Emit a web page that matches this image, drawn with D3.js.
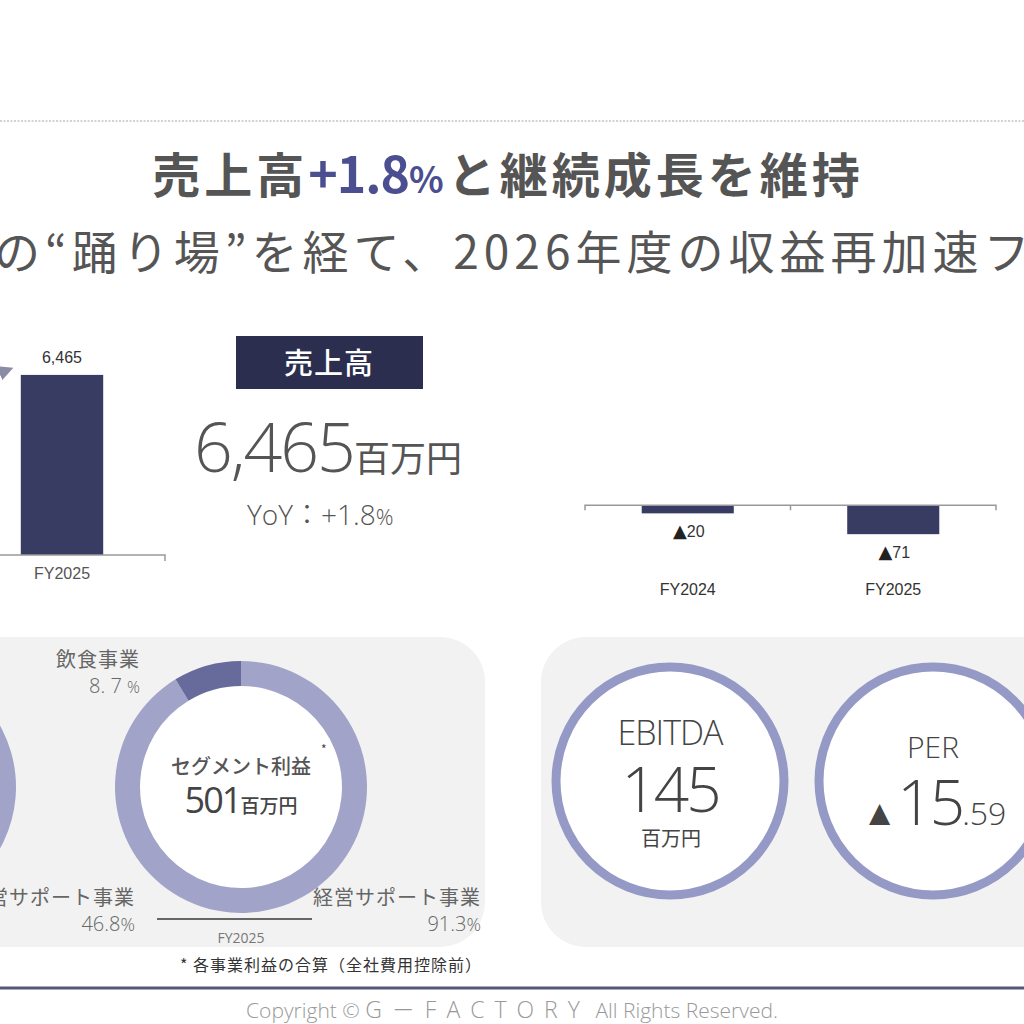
<!DOCTYPE html>
<html><head><meta charset="utf-8">
<script src="https://cdn.jsdelivr.net/npm/d3@7"></script>
<style>
html,body{margin:0;padding:0;background:#fff;}
svg{display:block;}
</style></head>
<body>
<svg id="c" width="1024" height="1024"></svg>
<script>
// ---------- data ----------
const salesCategories = ["FY2024", "FY2025"];
const salesValues = [6351, 6465];
const salesLabels = ["6,351", "6,465"];

const opCategories = ["FY2024", "FY2025"];
const opValues = [-20, -71];
const opLabels = ["▲20", "▲71"];

const segNamesFY2025 = ["経営サポート事業", "飲食事業"];
const segValuesFY2025 = [91.3, 8.7];
const segNamesFY2024 = ["経営サポート事業", "その他"];
const segValuesFY2024 = [46.8, 53.2];

const titleParts = ["売上高", "+1.8", "%", "と継続成長を維持"];
const subtitleText = "の“踊り場”を経て、2026年度の収益再加速フ";
const salesHeadline = "6,465";
const yoyText = "+1.8";
const segmentTotal = "501";
const ebitdaValue = "145";
const perInt = "15";
const perDec = ".59";

// ---------- setup ----------
const svg = d3.select("#c");
const JP = "'Noto Sans CJK JP', 'Noto Sans', sans-serif";
const LIGHT = "'Open Sans', 'Noto Sans', 'Noto Sans CJK JP', sans-serif";
const ARIAL = "'Liberation Sans', Arial, sans-serif";
const NAVY = "#383c62";
const RING = "#9599c6";
const SEG_LIGHT = "#a1a4c8";
const SEG_DARK = "#676b9b";

// top dotted rule
svg.append("line").attr("x1", 0).attr("x2", 1024).attr("y1", 121).attr("y2", 121)
  .attr("stroke", "#c4c4c4").attr("stroke-width", 1.5).attr("stroke-dasharray", "2,1.5");

// title
const title = svg.append("text").attr("x", 508).attr("y", 193).attr("text-anchor", "middle")
  .attr("font-family", JP).attr("font-weight", 700).attr("font-size", 48).attr("fill", "#555");
title.append("tspan").attr("letter-spacing", 4).text(titleParts[0]);
title.append("tspan").attr("fill", "#4b4f8f").attr("font-size", 50).attr("letter-spacing", -1).text(titleParts[1]);
title.append("tspan").attr("fill", "#4b4f8f").attr("font-size", 36).attr("letter-spacing", 4).text(titleParts[2]);
title.append("tspan").attr("letter-spacing", 4).text(titleParts[3]);

// subtitle
svg.append("text").attr("x", -6).attr("y", 269).attr("font-family", JP).attr("font-weight", 400)
  .attr("font-size", 46).attr("fill", "#555").attr("letter-spacing", 5).text(subtitleText);

// ---------- left bar chart (sales) ----------
const xs = d3.scaleBand().domain(salesCategories).range([-247, 165]).paddingInner(0.6).paddingOuter(0.3);
const ys = d3.scaleLinear().domain([0, 7000]).range([555, 360]);

svg.append("g").selectAll("rect").data(salesValues).join("rect")
  .attr("x", (d, i) => xs(salesCategories[i])).attr("width", xs.bandwidth())
  .attr("y", d => ys(d)).attr("height", d => ys(0) - ys(d)).attr("fill", NAVY);

svg.append("g").selectAll("text").data(salesValues).join("text")
  .attr("x", (d, i) => xs(salesCategories[i]) + xs.bandwidth() / 2).attr("y", d => ys(d) - 12)
  .attr("text-anchor", "middle").attr("font-family", ARIAL).attr("font-size", 16).attr("fill", "#333")
  .text((d, i) => salesLabels[i]);

const axS = svg.append("g").attr("transform", `translate(0,${ys(0)})`)
  .call(d3.axisBottom(xs).tickSize(0).tickPadding(13));
axS.select(".domain").attr("stroke", "#999").attr("stroke-width", 1.5).attr("d", "M-247,0H165V6");
axS.selectAll("text").attr("font-family", ARIAL).attr("font-size", 16).attr("fill", "#555");

// growth arrow (partially visible)
svg.append("defs").append("marker").attr("id", "ah").attr("viewBox", "0 0 10 10")
  .attr("refX", 4).attr("refY", 5).attr("markerWidth", 5).attr("markerHeight", 5).attr("orient", "auto")
  .append("path").attr("d", "M0,0L10,5L0,10z").attr("fill", "#8a8ca6");
svg.append("line").attr("x1", -60).attr("y1", 397).attr("x2", 5).attr("y2", 371)
  .attr("stroke", "#8a8ca6").attr("stroke-width", 3).attr("marker-end", "url(#ah)");

// badge
svg.append("rect").attr("x", 236).attr("y", 336).attr("width", 187).attr("height", 53).attr("fill", "#2b2e4f");
svg.append("text").attr("x", 329).attr("y", 374).attr("text-anchor", "middle").attr("font-family", JP)
  .attr("font-weight", 500).attr("font-size", 29).attr("fill", "#fff").attr("letter-spacing", 1).text("売上高");

const big = svg.append("text").attr("x", 194).attr("y", 472).attr("font-family", LIGHT).attr("font-weight", 300)
  .attr("fill", "#555");
big.append("tspan").attr("font-size", 68).attr("letter-spacing", -2).text(salesHeadline);
big.append("tspan").attr("font-family", JP).attr("font-size", 36).attr("font-weight", 400).text("百万円");

const yoy = svg.append("text").attr("x", 247).attr("y", 525).attr("font-family", LIGHT).attr("font-weight", 300)
  .attr("fill", "#555").attr("font-size", 28);
yoy.append("tspan").text("YoY");
yoy.append("tspan").attr("font-family", JP).text("：");
yoy.append("tspan").text(yoyText);
yoy.append("tspan").attr("font-size", 22).text("%");

// ---------- right bar chart (operating loss) ----------
const xo = d3.scaleBand().domain(opCategories).range([585, 996]).paddingInner(0.552).paddingOuter(0.276);
const yo = d3.scaleLinear().domain([-100, 400]).range([546, 342]);

svg.append("g").selectAll("rect").data(opValues).join("rect")
  .attr("x", (d, i) => xo(opCategories[i])).attr("width", xo.bandwidth())
  .attr("y", d => yo(Math.max(0, d))).attr("height", d => Math.abs(yo(d) - yo(0))).attr("fill", NAVY);

const axO = svg.append("g").attr("transform", `translate(0,${yo(0)})`)
  .call(d3.axisBottom(xo).tickSize(0).tickPadding(0));
axO.select(".domain").remove();
axO.selectAll(".tick text").remove();
axO.append("path").attr("d", "M585,5V0H996V5M790.5,0V5").attr("fill", "none").attr("stroke", "#999").attr("stroke-width", 1.5);

const opl = svg.append("g").selectAll("text").data(opValues).join("text")
  .attr("x", (d, i) => xo(opCategories[i]) + xo.bandwidth() / 2 + 1).attr("y", d => yo(d) + 24)
  .attr("text-anchor", "middle").attr("font-family", ARIAL).attr("font-size", 16).attr("fill", "#333");
opl.append("tspan").attr("font-family", "'DejaVu Sans', sans-serif").attr("font-size", 18).attr("fill", "#222")
  .text((d, i) => opLabels[i].charAt(0));
opl.append("tspan").text((d, i) => opLabels[i].slice(1));

svg.append("g").selectAll("text").data(opCategories).join("text")
  .attr("x", d => xo(d) + xo.bandwidth() / 2).attr("y", 595)
  .attr("text-anchor", "middle").attr("font-family", ARIAL).attr("font-size", 16).attr("fill", "#333")
  .text(d => d);

// ---------- bottom panels ----------
svg.append("rect").attr("x", -60).attr("y", 637).attr("width", 545).attr("height", 310).attr("rx", 45).attr("fill", "#f2f2f2");
svg.append("rect").attr("x", 541).attr("y", 637).attr("width", 600).attr("height", 310).attr("rx", 45).attr("fill", "#f2f2f2");

const pie = d3.pie().sort(null);
const arc = d3.arc().innerRadius(101).outerRadius(126);

function donut(cx, cy, values, colors) {
  const g = svg.append("g").attr("transform", `translate(${cx},${cy})`);
  g.append("circle").attr("r", 101).attr("fill", "#fff");
  g.selectAll("path").data(pie(values)).join("path").attr("d", arc).attr("fill", (d, i) => colors[i]);
  return g;
}
donut(-110, 787, segValuesFY2024, [SEG_LIGHT, SEG_LIGHT]);
const dg = donut(241, 787, segValuesFY2025, [SEG_LIGHT, SEG_DARK]);

// donut center text
dg.append("text").attr("x", 0).attr("y", -13).attr("text-anchor", "middle").attr("font-family", JP)
  .attr("font-weight", 500).attr("font-size", 20).attr("fill", "#555").text("セグメント利益");
dg.append("text").attr("x", 80).attr("y", -33).attr("font-family", JP).attr("font-size", 12).attr("fill", "#444").text("*");
const tot = dg.append("text").attr("x", 0).attr("y", 26).attr("text-anchor", "middle").attr("fill", "#444");
tot.append("tspan").attr("font-family", LIGHT).attr("font-size", 36).attr("letter-spacing", -2).text(segmentTotal);
tot.append("tspan").attr("font-family", JP).attr("font-size", 19).attr("font-weight", 500).text("百万円");

function segLabel(x, y, name, val, pctSize, gap) {
  svg.append("text").attr("x", x).attr("y", y).attr("text-anchor", "end").attr("font-family", JP)
    .attr("font-size", 20).attr("fill", "#666").attr("letter-spacing", 1).text(name);
  const t = svg.append("text").attr("x", x).attr("y", y + 26).attr("text-anchor", "end").attr("font-family", LIGHT)
    .attr("font-weight", 300).attr("font-size", 20).attr("fill", "#666");
  t.append("tspan").text(val + gap);
  t.append("tspan").attr("font-size", pctSize).text("%");
}
segLabel(140, 667, segNamesFY2025[1], "8. 7", 16, " ");
segLabel(481, 905, segNamesFY2025[0], segValuesFY2025[0].toFixed(1), 18, "");
segLabel(135, 905, segNamesFY2024[0], segValuesFY2024[0].toFixed(1), 18, "");

svg.append("line").attr("x1", 157).attr("x2", 312).attr("y1", 919).attr("y2", 919).attr("stroke", "#666").attr("stroke-width", 2);
svg.append("text").attr("x", 241).attr("y", 943).attr("text-anchor", "middle").attr("font-family", LIGHT)
  .attr("font-size", 14).attr("fill", "#777").text("FY2025");

svg.append("text").attr("x", 180).attr("y", 971).attr("font-family", JP).attr("font-size", 16).attr("fill", "#333")
  .attr("letter-spacing", 1).text("* 各事業利益の合算（全社費用控除前）");

// KPI circles
function ring(cx, cy) {
  svg.append("circle").attr("cx", cx).attr("cy", cy).attr("r", 114).attr("fill", "#fff")
    .attr("stroke", RING).attr("stroke-width", 9);
}
ring(670, 781);
ring(933, 781);
svg.append("text").attr("x", 670).attr("y", 745).attr("text-anchor", "middle").attr("font-family", LIGHT)
  .attr("font-weight", 300).attr("font-size", 34).attr("fill", "#444").attr("letter-spacing", -1).text("EBITDA");
svg.append("text").attr("x", 670).attr("y", 812).attr("text-anchor", "middle").attr("font-family", LIGHT)
  .attr("font-weight", 300).attr("font-size", 62).attr("fill", "#444").attr("letter-spacing", -3).text(ebitdaValue);
svg.append("text").attr("x", 671).attr("y", 846).attr("text-anchor", "middle").attr("font-family", JP)
  .attr("font-weight", 400).attr("font-size", 20).attr("fill", "#444").text("百万円");

svg.append("text").attr("x", 933).attr("y", 758).attr("text-anchor", "middle").attr("font-family", LIGHT)
  .attr("font-weight", 300).attr("font-size", 30).attr("fill", "#444").text("PER");
const per = svg.append("text").attr("x", 934).attr("y", 825).attr("text-anchor", "middle").attr("font-family", LIGHT)
  .attr("font-weight", 300).attr("fill", "#444");
per.append("tspan").attr("font-family", "'DejaVu Sans', sans-serif").attr("font-size", 36).text("▲");
per.append("tspan").attr("font-size", 62).attr("letter-spacing", -3).text(perInt);
per.append("tspan").attr("font-size", 32).text(perDec);

// footer
svg.append("line").attr("x1", 0).attr("x2", 1024).attr("y1", 988).attr("y2", 988).attr("stroke", "#55577a").attr("stroke-width", 3);
const cp = svg.append("text").attr("x", 512).attr("y", 1018).attr("text-anchor", "middle").attr("font-family", LIGHT)
  .attr("font-weight", 300).attr("font-size", 21).attr("fill", "#999");
cp.append("tspan").text("Copyright © ");
cp.append("tspan").attr("font-size", 23).attr("letter-spacing", 10).text("G－FACTORY");
cp.append("tspan").text(" All Rights Reserved.");
</script>
</body></html>
